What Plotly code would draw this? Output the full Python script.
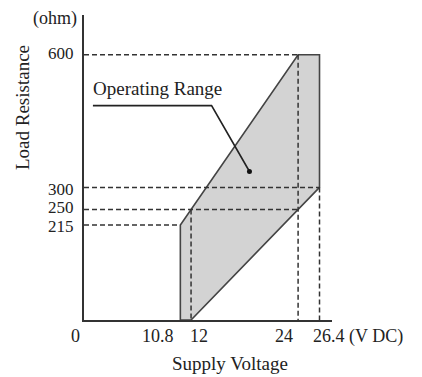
import plotly.graph_objects as go

# ---- data ----
range_x = [10.8, 10.8, 24, 26.4, 26.4, 12, 10.8]      # supply voltage (V DC)
range_y = [0, 215, 600, 600, 300, 0, 0]              # load resistance (ohm)

x_ticks = [0, 10.8, 12, 24, 26.4]
x_tick_text = ["0", "10.8", "12", "24", "26.4 (V DC)"]
y_ticks = [215, 250, 300, 600]
y_tick_text = ["215", "250", "300", "600"]

# reference (dashed) lines: (x0, y0, x1, y1)
ref_lines = [
    (0, 600, 24, 600),
    (0, 300, 26.4, 300),
    (0, 250, 24, 250),
    (0, 215, 10.8, 215),
    (24, 600, 24, 0),
    (26.4, 300, 26.4, 0),
    (12, 250, 12, 0),
]

FONT = "Liberation Serif, Times New Roman, serif"
INK = "#333333"
TXT = "#222222"

fig = go.Figure()

fig.add_trace(go.Scatter(
    x=range_x, y=range_y, mode="lines", fill="toself",
    fillcolor="#d3d3d3", line=dict(color="#444444", width=1.6),
    hoverinfo="skip", showlegend=False))

for x0, y0, x1, y1 in ref_lines:
    fig.add_trace(go.Scatter(
        x=[x0, x1], y=[y0, y1], mode="lines",
        line=dict(color=INK, width=1.5, dash="5px,3px"),
        hoverinfo="skip", showlegend=False))

# leader line for "Operating Range"
fig.add_trace(go.Scatter(
    x=[1.0, 14.3, 18.55], y=[485, 485, 336], mode="lines",
    line=dict(color="#222222", width=1.6),
    hoverinfo="skip", showlegend=False))
fig.add_trace(go.Scatter(
    x=[18.55], y=[336], mode="markers",
    marker=dict(color="#111111", size=5),
    hoverinfo="skip", showlegend=False))

# x tick labels (hand placed like the reference)
x_anchor = ["right", "right", "left", "right", "center"]
x_shift = [-2, -4, -3, -3, 38]
for v, t, a, s in zip(x_ticks, x_tick_text, x_anchor, x_shift):
    fig.add_annotation(x=v, y=0, xref="x", yref="y", text=t, showarrow=False,
                       xanchor=a, yanchor="middle", xshift=s, yshift=-16,
                       font=dict(family=FONT, size=18, color=TXT))

# y tick labels
y_shift = [-2, 2, -2, 1]
for v, t, s in zip(y_ticks, y_tick_text, y_shift):
    fig.add_annotation(x=0, y=v, xref="x", yref="y", text=t, showarrow=False,
                       xanchor="right", yanchor="middle", xshift=-8, yshift=s,
                       font=dict(family=FONT, size=17, color=TXT))

fig.add_annotation(x=-0.02, y=0.99, xref="paper", yref="paper", text="(ohm)",
                   showarrow=False, xanchor="right", yanchor="middle",
                   font=dict(family=FONT, size=18, color=TXT))
fig.add_annotation(x=-0.25, y=0.695, xref="paper", yref="paper",
                   text="Load Resistance", textangle=-90,
                   showarrow=False, xanchor="center", yanchor="middle",
                   font=dict(family=FONT, size=19, color=TXT))
fig.add_annotation(x=8.2, y=0, xref="x", yref="y", text="Operating Range",
                   showarrow=False, xanchor="center", yanchor="middle", yshift=232,
                   font=dict(family=FONT, size=19, color=TXT))
fig.add_annotation(x=0.589, y=0, xref="paper", yref="paper", text="Supply Voltage",
                   showarrow=False, xanchor="center", yanchor="middle", yshift=-43,
                   font=dict(family=FONT, size=19, color=TXT))

# the page adds an 8px body margin, so the figure is 8px smaller than the window
fig.update_layout(
    width=414, height=369,
    margin=dict(l=76, r=90, t=7, b=57, autoexpand=False),
    paper_bgcolor="white", plot_bgcolor="white",
    xaxis=dict(range=[0, 27.8], showline=True, linecolor=INK, linewidth=2,
               showgrid=False, zeroline=False, showticklabels=False, ticks="",
               automargin=False),
    yaxis=dict(range=[0, 690], showline=True, linecolor=INK, linewidth=2,
               showgrid=False, zeroline=False, showticklabels=False, ticks="",
               automargin=False),
)

fig.write_html("out.html")
